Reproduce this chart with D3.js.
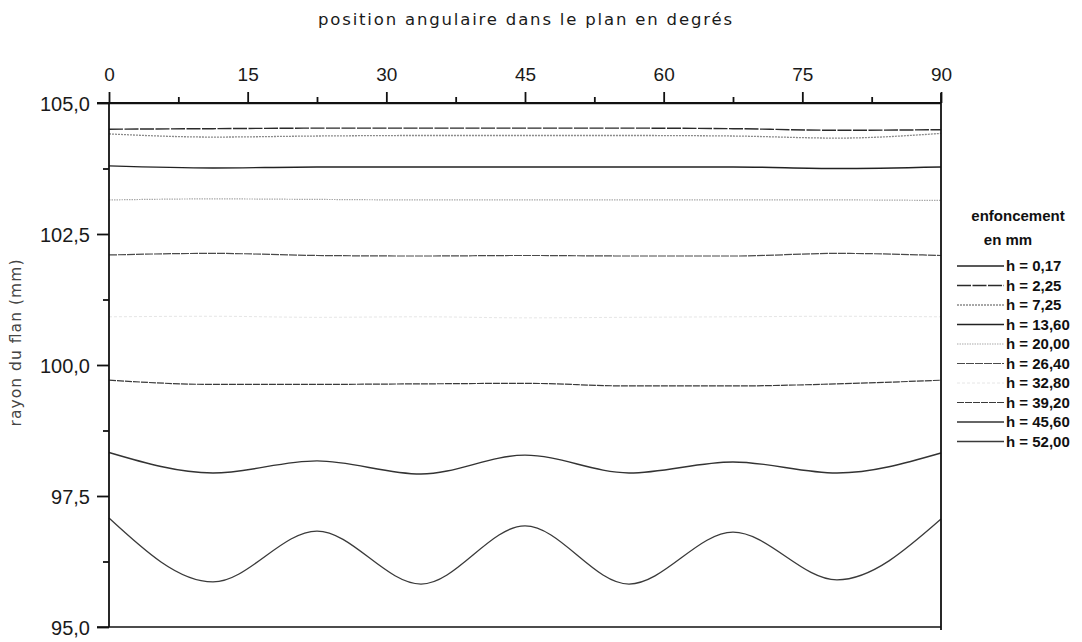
<!DOCTYPE html>
<html>
<head>
<meta charset="utf-8">
<script src="https://cdn.jsdelivr.net/npm/d3@7"></script>
<style>
  body { margin: 0; background: #fff; }
  svg { font-family: "Liberation Sans", Arial, sans-serif; }
</style>
</head>
<body>
<svg id="chart" width="1082" height="642"></svg>
<script>
// angular positions sampled (deg)
const angles = [0, 11.25, 22.5, 33.75, 45, 56.25, 67.5, 78.75, 90];

// blank radius (mm) for each punch depth h
const h017 = [104.99, 104.99, 104.99, 104.99, 104.99, 104.99, 104.99, 104.99, 104.99];
const h225 = [104.50, 104.51, 104.52, 104.52, 104.52, 104.52, 104.51, 104.48, 104.49];
const h725 = [104.41, 104.35, 104.37, 104.38, 104.38, 104.38, 104.37, 104.33, 104.42];
const h1360 = [103.80, 103.76, 103.78, 103.78, 103.78, 103.78, 103.78, 103.75, 103.78];
const h2000 = [103.15, 103.17, 103.16, 103.15, 103.15, 103.15, 103.15, 103.15, 103.14];
const h2640 = [102.10, 102.13, 102.09, 102.08, 102.09, 102.08, 102.08, 102.13, 102.09];
const h3280 = [100.92, 100.93, 100.91, 100.92, 100.90, 100.91, 100.92, 100.93, 100.92];
const h3920 = [99.71, 99.63, 99.63, 99.64, 99.65, 99.60, 99.60, 99.64, 99.71];
const h4560 = [98.33, 97.94, 98.17, 97.92, 98.28, 97.94, 98.15, 97.94, 98.32];
const h5200 = [97.08, 95.86, 96.83, 95.82, 96.93, 95.82, 96.81, 95.90, 97.06];

const legendLabels = ["h = 0,17", "h = 2,25", "h = 7,25", "h = 13,60", "h = 20,00",
  "h = 26,40", "h = 32,80", "h = 39,20", "h = 45,60", "h = 52,00"];

const xTicks = [0, 15, 30, 45, 60, 75, 90];
const xMinorTicks = [7.5, 22.5, 37.5, 52.5, 67.5, 82.5];
const yTicks = [95, 97.5, 100, 102.5, 105];
const yMinorTicks = [96.25, 98.75, 101.25, 103.75];

const series = [
  { values: h017, color: "#222", width: 1.3, dash: null },
  { values: h225, color: "#2a2a2a", width: 1.4, dash: "14,1.5" },
  { values: h725, color: "#8a8a8a", width: 1.3, dash: "2,1" },
  { values: h1360, color: "#222", width: 1.4, dash: null },
  { values: h2000, color: "#aaa", width: 1.2, dash: "1.5,1" },
  { values: h2640, color: "#4a4a4a", width: 1.2, dash: "8,1" },
  { values: h3280, color: "#e6e6e6", width: 1, dash: "3,2" },
  { values: h3920, color: "#3a3a3a", width: 1.2, dash: "7,1" },
  { values: h4560, color: "#333", width: 1.4, dash: null },
  { values: h5200, color: "#3a3a3a", width: 1.3, dash: null }
];

const svg = d3.select("#chart");

const x = d3.scaleLinear().domain([0, 90]).range([109, 941]);
const y = d3.scaleLinear().domain([95, 105]).range([627, 103]);

const frac = (d) => d3.format(".1f")(d).replace(".", ",");

// curves
const line = d3.line()
  .x((d, i) => x(angles[i]))
  .y((d) => y(d))
  .curve(d3.curveMonotoneX);

svg.append("g")
  .selectAll("path")
  .data(series)
  .join("path")
  .attr("fill", "none")
  .attr("stroke", (d) => d.color)
  .attr("stroke-width", (d) => d.width)
  .attr("stroke-dasharray", (d) => d.dash)
  .attr("d", (d) => line(d.values));

// frame lines
svg.append("line")
  .attr("x1", x(0) - 12).attr("x2", x(90))
  .attr("y1", y(105)).attr("y2", y(105))
  .attr("stroke", "#111").attr("stroke-width", 1.8);
svg.append("line")
  .attr("x1", x(0) - 12).attr("x2", x(90))
  .attr("y1", y(95)).attr("y2", y(95))
  .attr("stroke", "#111").attr("stroke-width", 1.6);
svg.append("line")
  .attr("x1", x(0)).attr("x2", x(0))
  .attr("y1", y(105)).attr("y2", y(95))
  .attr("stroke", "#111").attr("stroke-width", 1.8);
svg.append("line")
  .attr("x1", x(90)).attr("x2", x(90))
  .attr("y1", y(105) - 10).attr("y2", y(95) + 3)
  .attr("stroke", "#111").attr("stroke-width", 1.8);

// top axis
const topAxis = svg.append("g")
  .attr("transform", `translate(0,${y(105)})`)
  .call(d3.axisTop(x).tickValues(xTicks).tickSize(11).tickPadding(11));
const topMinor = svg.append("g")
  .attr("transform", `translate(0,${y(105)})`)
  .call(d3.axisTop(x).tickValues(xMinorTicks).tickSize(6).tickFormat(""));

// left axis
const leftAxis = svg.append("g")
  .attr("transform", `translate(${x(0)},0)`)
  .call(d3.axisLeft(y).tickValues(yTicks).tickSize(12).tickPadding(7).tickFormat(frac));
const leftMinor = svg.append("g")
  .attr("transform", `translate(${x(0)},0)`)
  .call(d3.axisLeft(y).tickValues(yMinorTicks).tickSize(6).tickFormat(""));

[topAxis, topMinor, leftAxis, leftMinor].forEach((g) => {
  g.select(".domain").remove();
  g.selectAll(".tick line").attr("stroke", "#111").attr("stroke-width", 1.8);
  g.selectAll(".tick text").attr("fill", "#1a1a1a");
});
topAxis.selectAll(".tick text").attr("font-size", 19);
leftAxis.selectAll(".tick text").attr("font-size", 20).attr("dy", "0.36em");

// titles
svg.append("text")
  .attr("x", 525).attr("y", 25)
  .attr("text-anchor", "middle")
  .attr("font-family", "'DejaVu Sans', sans-serif")
  .attr("font-size", 16.5)
  .attr("textLength", 414)
  .attr("lengthAdjust", "spacing")
  .attr("fill", "#1a1a1a")
  .text("position angulaire dans le plan en degrés");

svg.append("text")
  .attr("transform", "translate(21,343) rotate(-90)")
  .attr("text-anchor", "middle")
  .attr("font-family", "'DejaVu Sans', sans-serif")
  .attr("font-size", 15.5)
  .attr("textLength", 167)
  .attr("lengthAdjust", "spacing")
  .attr("fill", "#444")
  .text("rayon du flan (mm)");

// legend
const legend = svg.append("g").attr("font-size", 15).attr("font-weight", "bold").attr("fill", "#111");
legend.append("text").attr("x", 1018).attr("y", 221).attr("text-anchor", "middle").text("enfoncement");
legend.append("text").attr("x", 1008).attr("y", 245).attr("text-anchor", "middle").text("en mm");

const rows = legend.selectAll("g.row")
  .data(series)
  .join("g")
  .attr("class", "row")
  .attr("transform", (d, i) => `translate(0,${266 + i * 19.5})`);

rows.append("line")
  .attr("x1", 957).attr("x2", 1004)
  .attr("y1", 0).attr("y2", 0)
  .attr("stroke", (d) => d.color)
  .attr("stroke-width", (d) => d.width)
  .attr("stroke-dasharray", (d) => d.dash);

rows.append("text")
  .attr("x", 1006).attr("y", 5)
  .text((d, i) => legendLabels[i]);
</script>
</body>
</html>
